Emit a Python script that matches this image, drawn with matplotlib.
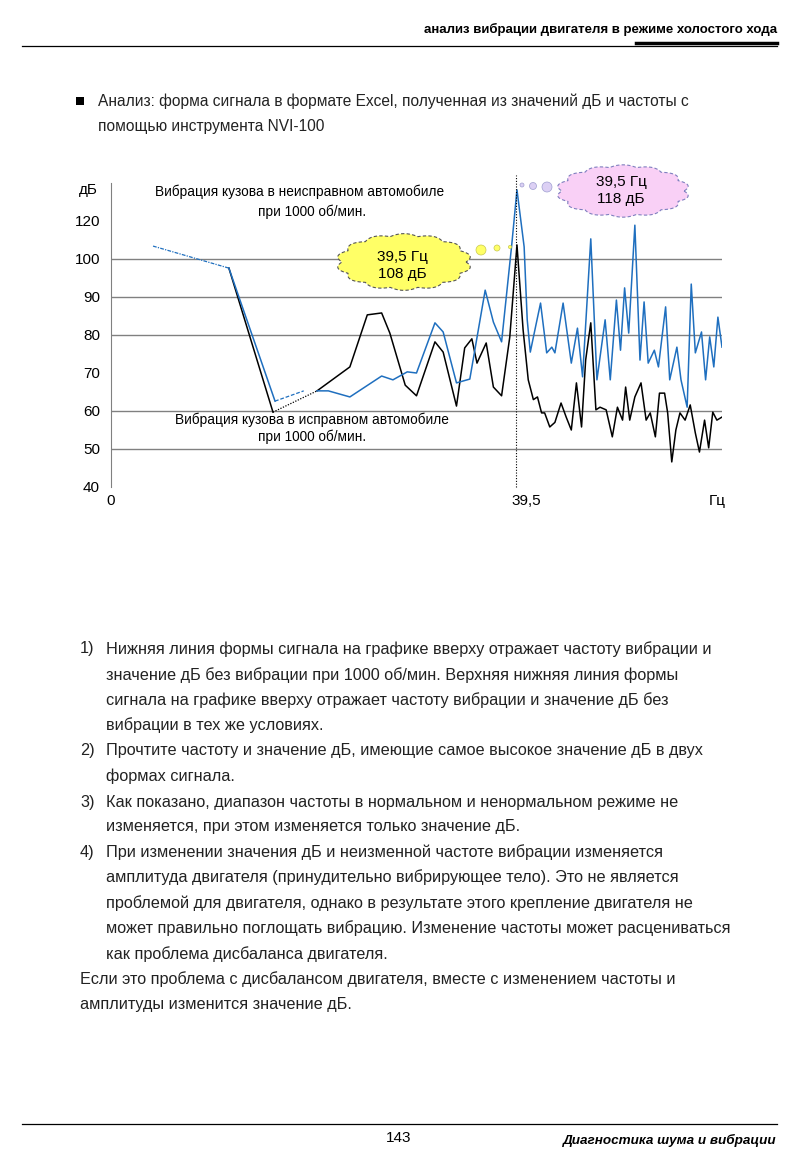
import numpy as np
import matplotlib
matplotlib.use('Agg')
import matplotlib.pyplot as plt
from matplotlib.patches import Polygon, Circle, Rectangle

plt.rcParams['font.family'] = ['Liberation Sans', 'DejaVu Sans']

# spectrum of the faulty car (blue), Hz / dB
blue_f = [4.1, 11.5, 16.0, 18.8, 20.1, 21.2, 23.3, 26.4, 27.5, 28.9, 29.8, 31.6, 32.4, 33.7,
          35.0, 36.5, 37.3, 38.1, 39.1, 39.6, 40.3, 40.6, 40.9, 41.4, 41.9, 42.5, 43.0, 43.3,
          44.1, 44.9, 45.5, 46.0, 46.8, 47.4, 48.2, 48.7, 49.3, 49.7, 50.1, 50.5, 51.1, 51.6,
          52.0, 52.4, 53.0, 53.4, 54.1, 54.5, 55.2, 55.6, 56.2, 56.6, 57.0, 57.6, 58.0, 58.4,
          58.8, 59.2, 59.6]
blue_db = [103.4, 97.6, 62.6, 65.3, 65.3, 65.3, 63.7, 69.2, 68.2, 70.3, 70.0, 83.2, 80.8, 67.4,
           68.4, 91.8, 83.4, 78.2, 104.0, 118.2, 103.2, 84.0, 75.5, 82.0, 88.4, 75.3, 76.8, 75.3,
           88.4, 72.6, 81.8, 69.0, 105.3, 68.2, 84.0, 68.2, 89.2, 76.0, 92.4, 80.5, 108.9, 73.4,
           88.7, 72.6, 76.0, 71.6, 87.4, 68.2, 76.8, 68.2, 61.0, 93.4, 75.3, 80.8, 68.2, 79.5,
           71.6, 84.7, 76.8]

# spectrum of the good car (black)
black_f = [11.5, 15.8, 20.1, 23.3, 25.0, 26.4, 27.2, 28.7, 29.8, 31.6, 32.4, 33.7, 34.5, 35.2,
           35.7, 36.6, 37.3, 38.1, 38.9, 39.6, 40.2, 40.7, 41.2, 41.6, 42.0, 42.3, 42.8, 43.3,
           43.9, 44.4, 44.9, 45.4, 45.9, 46.3, 46.8, 47.3, 47.7, 48.3, 48.9, 49.4, 49.9, 50.2,
           50.6, 51.1, 51.7, 52.2, 52.6, 53.1, 53.5, 54.0, 54.3, 54.7, 55.1, 55.5, 56.0, 56.5,
           57.0, 57.4, 57.9, 58.3, 58.7, 59.1, 59.6]
black_db = [97.6, 59.7, 65.3, 71.6, 85.3, 85.8, 80.5, 66.8, 64.0, 78.2, 75.5, 61.3, 76.6, 79.0,
            72.6, 77.9, 66.3, 64.0, 79.5, 103.7, 81.3, 68.2, 63.0, 63.7, 59.5, 59.5, 55.8, 57.0,
            62.1, 58.4, 55.0, 67.4, 55.8, 73.4, 83.2, 60.3, 61.0, 60.3, 53.2, 61.0, 57.6, 66.3,
            57.6, 63.7, 67.4, 57.6, 59.5, 53.2, 64.7, 64.7, 59.5, 46.6, 55.0, 59.5, 57.6, 61.6,
            54.2, 49.2, 57.6, 50.3, 59.7, 57.6, 58.4]

grid_levels = [50, 60, 80, 90, 100]
ytick_pos = [40, 50, 60, 70, 80, 90, 100, 110]
ytick_labels = ['40', '50', '60', '70', '80', '90', '100', '120']
peak_f = 39.5

blue = '#1f6fbf'

fig = plt.figure(figsize=(8, 11.55), dpi=100)

# chart axes (pixel placement of the original page)
ax = fig.add_axes([111/800, 1-487/1155, 611/800, 304/1155])
ax.set_xlim(0, 59.6)
ax.set_ylim(40, 120)
ax.patch.set_alpha(0)
for s in ['top', 'right', 'bottom']:
    ax.spines[s].set_visible(False)
ax.spines['left'].set_color('#808080')
ax.hlines(grid_levels, 0, 59.6, color='#808080', lw=1.0, zorder=1)

ax.set_xticks([])
ax.set_yticks(ytick_pos)
ax.set_yticklabels(ytick_labels, fontsize=11)
ax.tick_params(axis='y', length=0, pad=8)

bf = np.array(blue_f); bd = np.array(blue_db)
kf = np.array(black_f); kd = np.array(black_db)

ax.plot(kf[:2], kd[:2], color='black', lw=1.1, zorder=3)
ax.plot(kf[1:3], kd[1:3], color='black', lw=0.9, ls=(0, (1, 1.2)), zorder=3)
ax.plot(kf[2:], kd[2:], color='black', lw=1.1, zorder=3)

ax.plot(bf[:2], bd[:2], color=blue, lw=0.9, ls=(0, (3, 1, 1, 1)), zorder=4)
ax.plot(bf[1:3], bd[1:3], color=blue, lw=1.1, zorder=4)
ax.plot(bf[2:4], bd[2:4], color=blue, lw=0.9, ls=(0, (3, 1.5)), zorder=4)
ax.plot(bf[4:], bd[4:], color=blue, lw=1.1, zorder=4)

ax.plot([peak_f, peak_f], [40, 122], color='black', lw=0.8, ls=(0, (1, 1.5)), clip_on=False, zorder=5)

xt = ax.get_xaxis_transform()
ax.text(0, -0.045, '0', transform=xt, ha='center', va='center', fontsize=11)
ax.text(peak_f - 0.4, -0.045, '39,5', transform=xt, ha='left', va='center', fontsize=11)
ax.text(59.1, -0.045, 'Гц', transform=xt, ha='center', va='center', fontsize=11)

# page overlay in pixel coordinates
page = fig.add_axes([0, 0, 1, 1])
page.set_xlim(0, 800)
page.set_ylim(1155, 0)
page.axis('off')


def cloud(cx, cy, a, b, fc, ec, n=14):
    t = np.linspace(0, 2*np.pi, 800)
    r = 1 + 0.09*np.abs(np.sin(n*t/2))
    pts = np.column_stack([cx + a*r*np.cos(t), cy + b*r*np.sin(t)])
    page.add_patch(Polygon(pts, closed=True, fc=fc, ec=ec, lw=0.8, ls=(0, (3, 2)), zorder=6))


cloud(404, 262, 62, 26, '#ffff66', '#555555')
for (x, y, r) in [(481, 250, 5), (497, 248, 3), (510, 247, 1.6)]:
    page.add_patch(Circle((x, y), r, fc='#ffff66', ec='#c8c850', lw=0.5, zorder=6))
page.text(402, 257, '39,5 Гц', ha='center', va='center', fontsize=11, zorder=7)
page.text(402, 274, '108 дБ', ha='center', va='center', fontsize=11, zorder=7)

cloud(623, 191, 61, 24, '#f9d0f6', '#7f7fbf')
for (x, y, r) in [(547, 187, 5), (533, 186, 3.5), (522, 185, 2)]:
    page.add_patch(Circle((x, y), r, fc='#dcd0f4', ec='#9f9fd0', lw=0.5, zorder=6))
page.text(621, 182, '39,5 Гц', ha='center', va='center', fontsize=11, zorder=7)
page.text(621, 199, '118 дБ', ha='center', va='center', fontsize=11, zorder=7)

page.text(88, 190, 'дБ', ha='center', va='center', fontsize=11)
page.text(300, 192, 'Вибрация кузова в неисправном автомобиле', ha='center', va='center', fontsize=9.8)
page.text(312, 212, 'при 1000 об/мин.', ha='center', va='center', fontsize=9.8)
page.text(312, 420, 'Вибрация кузова в исправном автомобиле', ha='center', va='center', fontsize=9.8)
page.text(312, 437, 'при 1000 об/мин.', ha='center', va='center', fontsize=9.8)

# header / footer
page.text(777, 29, 'анализ вибрации двигателя в режиме холостого хода', ha='right', va='center',
          fontsize=9.5, fontweight='bold')
page.plot([22, 777], [46, 46], color='black', lw=0.9)
page.plot([636, 777], [43, 43], color='black', lw=2.5)
page.plot([22, 777], [1124, 1124], color='black', lw=0.9)
page.text(399, 1138, '143', ha='center', va='center', fontsize=11)
page.text(777, 1140, 'Диагностика шума и вибрации', ha='right', va='center',
          fontsize=9.7, fontweight='bold', fontstyle='italic')

# bullet text
tc = '#222222'
page.add_patch(Rectangle((76, 97), 8, 8, fc='black', ec='none'))
page.text(98, 101, 'Анализ: форма сигнала в формате Excel, полученная из значений дБ и частоты с',
          ha='left', va='center', fontsize=11.2, color=tc)
page.text(98, 126, 'помощью инструмента NVI-100', ha='left', va='center', fontsize=11.2, color=tc)

body = [
    ('1)', 'Нижняя линия формы сигнала на графике вверху отражает частоту вибрации и', 649),
    ('', 'значение дБ без вибрации при 1000 об/мин. Верхняя нижняя линия формы', 675),
    ('', 'сигнала на графике вверху отражает частоту вибрации и значение дБ без', 700),
    ('', 'вибрации в тех же условиях.', 725),
    ('2)', 'Прочтите частоту и значение дБ, имеющие самое высокое значение дБ в двух', 751),
    ('', 'формах сигнала.', 776),
    ('3)', 'Как показано, диапазон частоты в нормальном и ненормальном режиме не', 802),
    ('', 'изменяется, при этом изменяется только значение дБ.', 827),
    ('4)', 'При изменении значения дБ и неизменной частоте вибрации изменяется', 852),
    ('', 'амплитуда двигателя (принудительно вибрирующее тело). Это не является', 877),
    ('', 'проблемой для двигателя, однако в результате этого крепление двигателя не', 903),
    ('', 'может правильно поглощать вибрацию. Изменение частоты может расцениваться', 928),
    ('', 'как проблема дисбаланса двигателя.', 954),
]
for num, line, y in body:
    if num:
        page.text(80, y, num, ha='left', va='center', fontsize=11.7, color=tc)
    page.text(106, y, line, ha='left', va='center', fontsize=11.7, color=tc)
page.text(80, 979, 'Если это проблема с дисбалансом двигателя, вместе с изменением частоты и',
          ha='left', va='center', fontsize=11.7, color=tc)
page.text(80, 1004, 'амплитуды изменится значение дБ.', ha='left', va='center', fontsize=11.7, color=tc)

fig.savefig('out.png', dpi=100, facecolor='white')
